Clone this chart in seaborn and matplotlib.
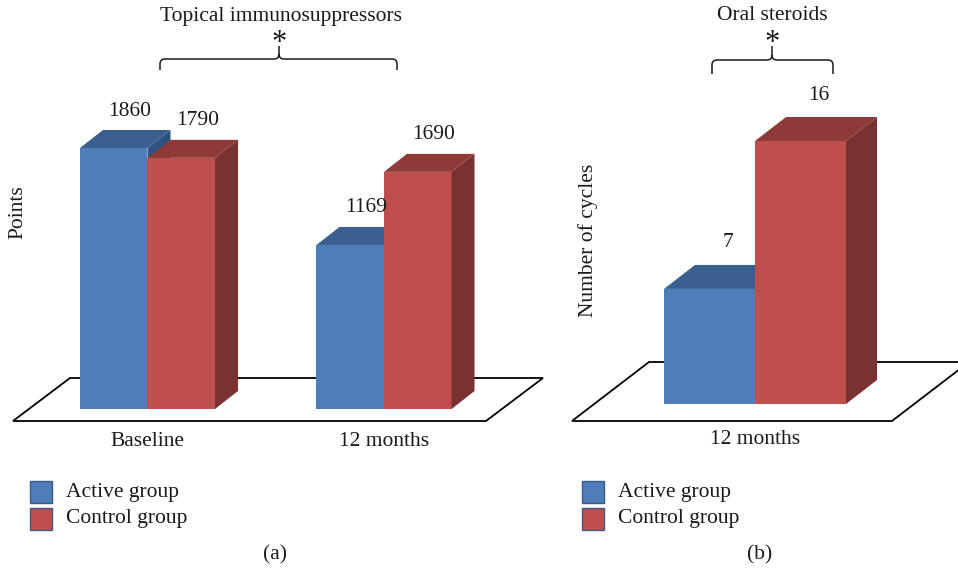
import numpy as np
import pandas as pd
import matplotlib
matplotlib.use("Agg")
import matplotlib.pyplot as plt
import seaborn as sns
from matplotlib.patches import Polygon, PathPatch, Rectangle
from matplotlib.path import Path

# ---------------- data ----------------
groups = ["Active group", "Control group"]
timepoints_a = ["Baseline", "12 months"]
active_points = [1860, 1169]
control_points = [1790, 1690]
timepoints_b = ["12 months"]
active_cycles = [7]
control_cycles = [16]
title_a = "Topical immunosuppressors"
title_b = "Oral steroids"
ylabel_a = "Points"
ylabel_b = "Number of cycles"
panel_tags = ["(a)", "(b)"]

# ---------------- style ----------------
W, H = 958, 571
FS = 15.5
FRONT = ["#4D7EB9", "#BE4F4C"]
TOP = ["#3A6090", "#8E3A38"]
SIDE = ["#2F5282", "#7A3131"]
TXT = "#1a1a1a"

sns.set_theme(style="white")
plt.rcParams['font.family'] = ['Liberation Serif', 'DejaVu Serif']
plt.rcParams['text.color'] = TXT

fig = plt.figure(figsize=(W / 100, H / 100), dpi=100)


def fp(x, y):
    return (x / W, 1 - y / H)


def setup(ax, left_px, right_px, cat0_px, px_per_cat, base_px, px_per_unit):
    ax.set_xlim(-(cat0_px - left_px) / px_per_cat, (right_px - cat0_px) / px_per_cat)
    ax.set_ylim(-(H - base_px) / px_per_unit, base_px / px_per_unit)
    ax.set_axis_off()


def add_3d(ax, dx, dy):
    inv = fig.transFigure.inverted()
    for h, cont in enumerate(ax.containers):
        for bar in cont:
            bar.set_zorder(2 + h)
            x0 = bar.get_x()
            x1 = x0 + bar.get_width()
            y1 = bar.get_height()
            (ax0, ay1), (ax1, _), (_, ay0) = ax.transData.transform([(x0, y1), (x1, y1), (x1, 0)])
            top = [(ax0, ay1), (ax1, ay1), (ax1 + dx, ay1 + dy), (ax0 + dx, ay1 + dy)]
            side = [(ax1, ay0), (ax1, ay1), (ax1 + dx, ay1 + dy), (ax1 + dx, ay0 + dy)]
            ax.add_patch(Polygon(inv.transform(side), closed=True, transform=fig.transFigure,
                                 facecolor=SIDE[h], edgecolor='none', zorder=2.5 + h, clip_on=False))
            ax.add_patch(Polygon(inv.transform(top), closed=True, transform=fig.transFigure,
                                 facecolor=TOP[h], edgecolor='none', zorder=2.5 + h, clip_on=False))


def add_labels(ax, ox, oy):
    for h, cont in enumerate(ax.containers):
        for bar, val in zip(cont, cont.datavalues):
            ax.annotate(f"{val:g}", xy=(bar.get_x() + bar.get_width() / 2, bar.get_height()),
                        xytext=(ox, oy), textcoords='offset pixels', ha='center', va='center',
                        fontsize=FS, color=TXT, zorder=10, annotation_clip=False)


def floor(ax, pts):
    ax.add_patch(Polygon([fp(*p) for p in pts], closed=True, transform=fig.transFigure,
                         facecolor='white', edgecolor='black', lw=1.3, zorder=1, clip_on=False))


def brace(L, R, C, yt, yb, tip, r=5):
    verts = [(C, tip), (C, yt - r), (C, yt), (C - r, yt), (L + r, yt), (L, yt), (L, yt + r), (L, yb),
             (C, yt - r), (C, yt), (C + r, yt), (R - r, yt), (R, yt), (R, yt + r), (R, yb)]
    codes = [Path.MOVETO, Path.LINETO, Path.CURVE3, Path.CURVE3, Path.LINETO, Path.CURVE3, Path.CURVE3, Path.LINETO,
             Path.MOVETO, Path.CURVE3, Path.CURVE3, Path.LINETO, Path.CURVE3, Path.CURVE3, Path.LINETO]
    fig.add_artist(PathPatch(Path([fp(*v) for v in verts], codes), transform=fig.transFigure,
                             facecolor='none', edgecolor=TXT, lw=1.1))


# ---------------- panel (a) ----------------
df_a = pd.DataFrame({
    "time": timepoints_a * 2,
    "group": [groups[0]] * len(timepoints_a) + [groups[1]] * len(timepoints_a),
    "value": active_points + control_points,
})
ax_a = fig.add_axes([0, 0, 560 / W, 1])
sns.barplot(data=df_a, x="time", y="value", hue="group", order=timepoints_a, hue_order=groups,
            palette=dict(zip(groups, FRONT)), saturation=1, width=0.571, gap=0, linewidth=0,
            errorbar=None, legend=False, ax=ax_a)
setup(ax_a, 0, 560, 147.5, 236.5, 409, (409 - 148) / 1860)
floor(ax_a, [(13, 421), (486, 421), (543, 378), (70, 378)])
add_3d(ax_a, 23, 18)
add_labels(ax_a, 16, 37)
for i, t in enumerate(timepoints_a):
    ax_a.text(i, 1 - 441 / H, t, transform=ax_a.get_xaxis_transform(), ha='center', va='center',
              fontsize=FS, color=TXT)

# ---------------- panel (b) ----------------
df_b = pd.DataFrame({
    "time": timepoints_b * 2,
    "group": [groups[0]] * len(timepoints_b) + [groups[1]] * len(timepoints_b),
    "value": active_cycles + control_cycles,
})
ax_b = fig.add_axes([560 / W, 0, 398 / W, 1])
sns.barplot(data=df_b, x="time", y="value", hue="group", order=timepoints_b, hue_order=groups,
            palette=dict(zip(groups, FRONT)), saturation=1, width=0.8, gap=0, linewidth=0,
            errorbar=None, legend=False, ax=ax_b)
setup(ax_b, 560, 958, 755, 182 / 0.8, 404, (404 - 141) / 16)
floor(ax_b, [(572, 421), (892, 421), (969, 362), (649, 362)])
add_3d(ax_b, 31, 24)
add_labels(ax_b, 18, 46)
for i, t in enumerate(timepoints_b):
    ax_b.text(i, 1 - 440 / H, t, transform=ax_b.get_xaxis_transform(), ha='center', va='center',
              fontsize=FS, color=TXT)

# ---------------- titles, braces, axis labels ----------------
fig.text(*fp(281, 16), title_a, ha='center', va='center', fontsize=FS)
fig.text(*fp(279, 43), "*", ha='center', va='center', fontsize=22)
brace(160, 397, 279, 59, 70, 46)
fig.text(*fp(772, 16), title_b, ha='center', va='center', fontsize=FS)
fig.text(*fp(772, 44), "*", ha='center', va='center', fontsize=22)
brace(712, 833, 772, 60, 74, 46)

fig.text(*fp(18, 212), ylabel_a, rotation=90, ha='center', va='center', fontsize=FS)
fig.text(*fp(588, 240), ylabel_b, rotation=90, ha='center', va='center', fontsize=FS)

# ---------------- legends ----------------
for x0 in (30, 582):
    for k, g in enumerate(groups):
        ytop = 481 + 27 * k
        fig.add_artist(Rectangle((x0 / W, 1 - (ytop + 22) / H), 22 / W, 22 / H, transform=fig.transFigure,
                                 facecolor=FRONT[k], edgecolor="#3B5A86", lw=1.0))
        fig.text(*fp(x0 + 36, ytop + 11), g, ha='left', va='center', fontsize=FS)

fig.text(*fp(275, 555), panel_tags[0], ha='center', va='center', fontsize=FS)
fig.text(*fp(760, 555), panel_tags[1], ha='center', va='center', fontsize=FS)

fig.savefig("out.png", dpi=100)
